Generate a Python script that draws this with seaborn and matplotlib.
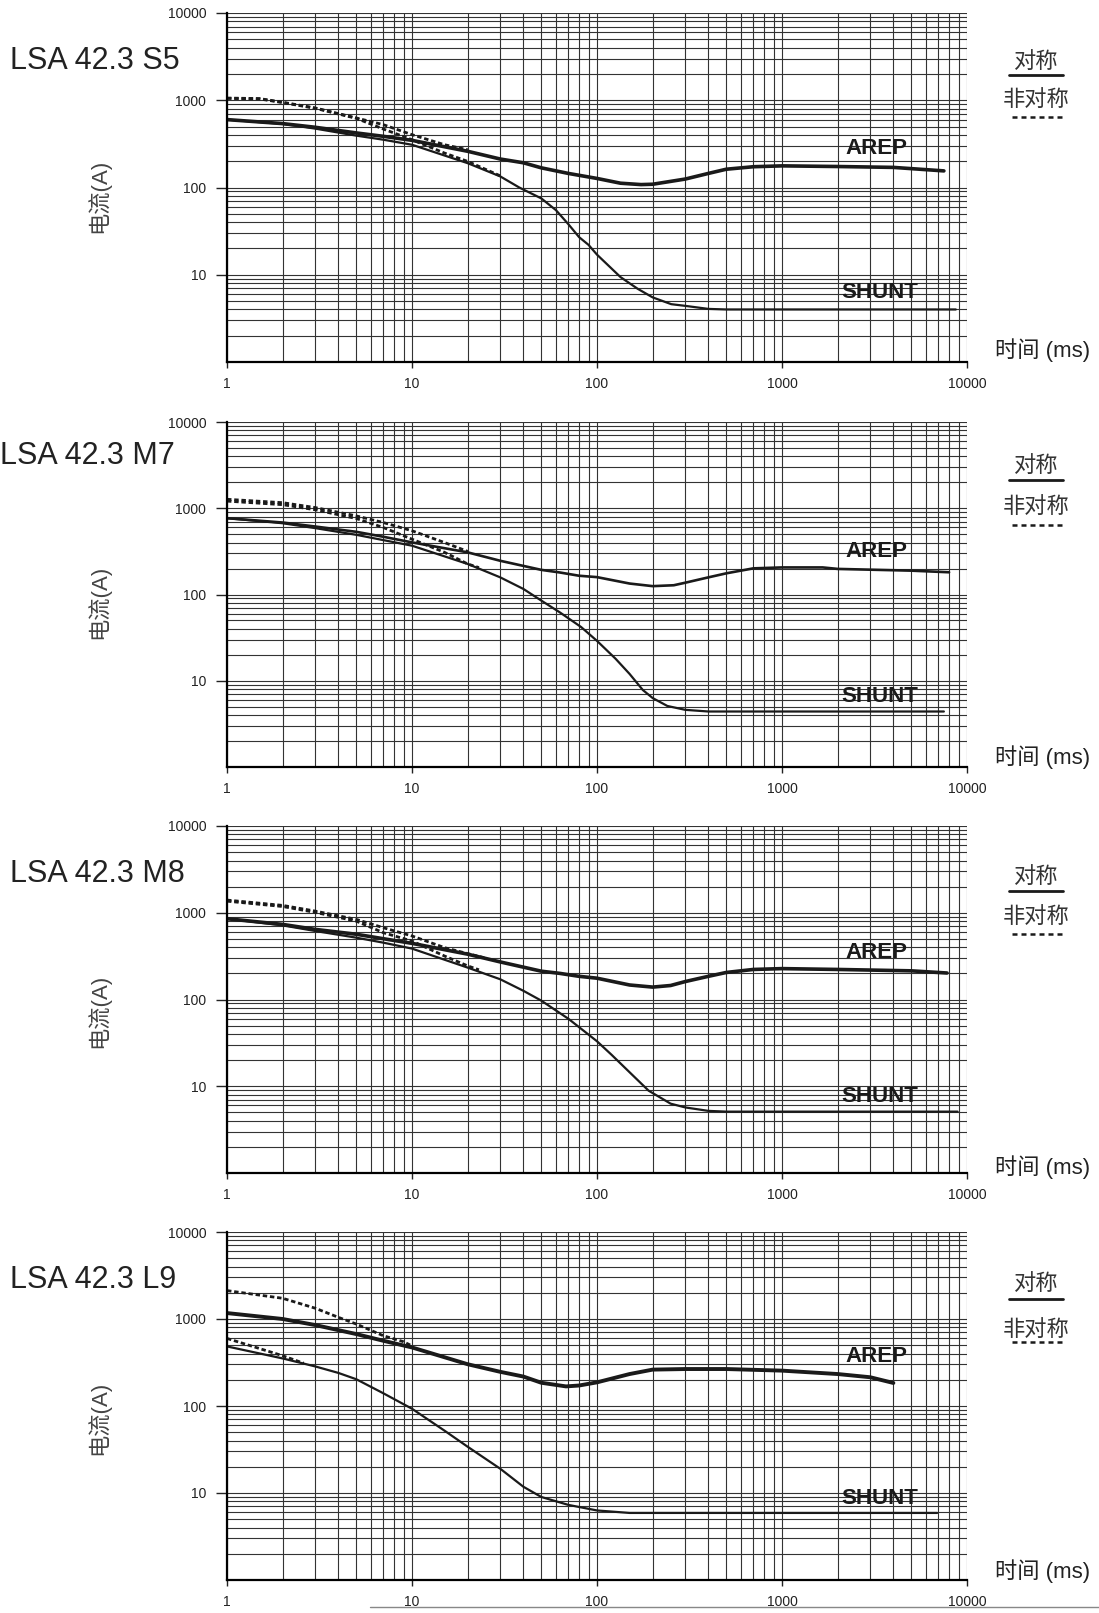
import matplotlib
matplotlib.use('Agg')
import matplotlib.pyplot as plt
import matplotlib.ticker as mticker
from matplotlib.lines import Line2D
import seaborn as sns

sns.set_style('white')
plt.rcParams['font.family'] = ['Liberation Sans', 'Noto Sans CJK SC', 'DejaVu Sans']

# ---- data (time in ms, current in A) ----
models = ['LSA 42.3 S5', 'LSA 42.3 M7', 'LSA 42.3 M8', 'LSA 42.3 L9']

x_ticks = [1, 10, 100, 1000, 10000]
x_labels = ['1', '10', '100', '1000', '10000']
y_ticks = [10, 100, 1000, 10000]
y_labels = ['10', '100', '1000', '10000']

# symmetric AREP (solid, thick)
arep_t = [
    [1, 2, 3, 5, 7, 10, 20, 30, 40, 50, 70, 100, 134, 173, 200, 300, 400, 500, 700, 1000, 2000, 4000, 7500],
    [1, 2, 3, 5, 7, 10, 20, 30, 50, 63, 80, 100, 150, 200, 260, 300, 400, 500, 700, 1000, 1660, 2000, 5000, 8000],
    [1, 2, 3, 5, 7, 10, 20, 30, 50, 63, 80, 100, 150, 200, 250, 300, 400, 500, 700, 1000, 2000, 5000, 7800],
    [1, 2, 3, 5, 7, 10, 20, 30, 40, 50, 68, 80, 100, 150, 200, 300, 500, 1000, 2000, 3000, 4000],
]
arep_i = [
    [600, 540, 490, 422, 386, 347, 260, 212, 192, 168, 145, 127, 112, 108, 109, 125, 145, 162, 173, 177, 174, 170, 155],
    [767, 683, 614, 533, 467, 402, 308, 246, 193, 180, 165, 159, 134, 125, 128, 137, 158, 176, 201, 206, 206, 198, 189, 181],
    [853, 734, 643, 565, 502, 444, 333, 271, 212, 200, 185, 176, 147, 139, 145, 161, 185, 205, 222, 227, 222, 214, 202],
    [1170, 1000, 852, 671, 562, 471, 302, 247, 218, 185, 168, 172, 187, 233, 262, 266, 266, 255, 233, 214, 184],
]

# symmetric SHUNT (solid, thinner)
shunt_t = [
    [1, 2, 3, 5, 7, 10, 20, 30, 38, 50, 60, 70, 80, 90, 100, 134, 166, 200, 252, 300, 400, 500, 8700],
    [1, 2, 3, 5, 7, 10, 20, 30, 40, 50, 63, 82, 100, 126, 150, 177, 200, 240, 300, 400, 7500],
    [1, 2, 3, 5, 7, 10, 20, 30, 40, 50, 70, 80, 100, 120, 150, 190, 250, 300, 400, 500, 8900],
    [1, 2, 3, 4, 5, 7, 10, 15, 20, 30, 40, 50, 70, 100, 150, 6900],
]
shunt_i = [
    [600, 535, 473, 393, 353, 309, 190, 134, 100, 75, 55, 38, 27, 22, 17, 9.4, 6.9, 5.5, 4.6, 4.4, 4.06, 4.0, 4.0],
    [767, 670, 588, 492, 427, 368, 226, 158, 116, 85, 62, 42, 29, 18, 12, 7.8, 6.3, 5.1, 4.6, 4.4, 4.4],
    [853, 715, 616, 516, 452, 386, 233, 171, 126, 97, 60, 48, 33, 23, 14.5, 8.9, 6.3, 5.7, 5.2, 5.1, 5.1],
    [484, 352, 285, 240, 203, 140, 93, 52, 34, 19, 11.8, 9, 7.3, 6.3, 5.9, 5.9],
]

# asymmetric AREP (dashed)
arep_asym_t = [
    [1, 1.5, 2, 3, 5, 7, 10, 15, 20],
    [1, 2, 3, 5, 7, 10, 15, 20],
    [1, 2, 3, 5, 7, 10, 15, 20, 25],
    [1, 2, 3, 4, 5, 7, 9, 10],
]
arep_asym_i = [
    [1060, 1045, 948, 816, 627, 525, 403, 309, 271],
    [1270, 1160, 1018, 815, 683, 548, 400, 316],
    [1400, 1215, 1045, 838, 672, 540, 396, 338, 300],
    [2120, 1730, 1330, 1045, 875, 642, 548, 490],
]

# asymmetric SHUNT (dashed)
shunt_asym_t = [
    [1, 1.5, 2, 3, 5, 7, 10, 15, 20, 30],
    [1, 2, 3, 5, 7, 10, 15, 20, 23],
    [1, 2, 3, 5, 7, 10, 15, 20, 23],
    [1, 2, 2.6],
]
shunt_asym_i = [
    [1050, 1035, 940, 808, 620, 468, 353, 248, 199, 136],
    [1210, 1100, 960, 760, 598, 438, 308, 226, 205],
    [1360, 1180, 1010, 800, 589, 472, 317, 244, 220],
    [598, 378, 310],
]

# ---- layout (pixels of the 1099x1613 picture) ----
W, H = 1099, 1613
ax_left, ax_right = 227, 967
ax_top = [13, 422, 826, 1232]
ax_bot = [362, 767, 1173, 1580]
title_x = [10, 0, 10, 10]
title_y = [61, 456, 874, 1280]
ylab_y = [196, 602, 1011, 1418]
xlab_y = [350, 757, 1167, 1571]
sym_y = [62, 466, 877, 1284]
sym_line_y = [75, 480, 891, 1299]
asym_y = [100, 507, 917, 1330]
asym_line_y = [117, 525, 934, 1342]
arep_lab_y = [149, 552, 953, 1356]
shunt_lab_y = [293, 696, 1097, 1499]
arep_lw = [2.6, 1.9, 2.6, 2.8]

ink = '#1a1a1a'


def fx(px):
    return px / W


def fy(py):
    return 1 - py / H


fig = plt.figure(figsize=(W / 100, H / 100), dpi=100)

for k in range(4):
    ax = fig.add_axes([fx(ax_left), fy(ax_bot[k]),
                       (ax_right - ax_left) / W, (ax_bot[k] - ax_top[k]) / H])
    ax.set(xscale='log', yscale='log')

    sns.lineplot(x=shunt_t[k], y=shunt_i[k], ax=ax, color=ink, linewidth=1.6,
                 estimator=None, sort=False)
    sns.lineplot(x=arep_t[k], y=arep_i[k], ax=ax, color=ink, linewidth=arep_lw[k],
                 estimator=None, sort=False)
    sns.lineplot(x=arep_asym_t[k], y=arep_asym_i[k], ax=ax, color=ink, linewidth=2.0,
                 linestyle=(0, (1.6, 1.0)), estimator=None, sort=False)
    sns.lineplot(x=shunt_asym_t[k], y=shunt_asym_i[k], ax=ax, color=ink, linewidth=2.0,
                 linestyle=(0, (1.6, 1.0)), estimator=None, sort=False)

    ax.set_xlim(1, 10000)
    ax.set_ylim(1, 10000)
    ax.set_xticks(x_ticks)
    ax.set_xticklabels(x_labels)
    ax.set_yticks(y_ticks)
    ax.set_yticklabels(y_labels)
    ax.xaxis.set_minor_locator(mticker.LogLocator(base=10, subs=range(2, 10)))
    ax.yaxis.set_minor_locator(mticker.LogLocator(base=10, subs=range(2, 10)))
    ax.xaxis.set_minor_formatter(mticker.NullFormatter())
    ax.yaxis.set_minor_formatter(mticker.NullFormatter())
    ax.grid(True, which='both', color='#333333', linewidth=0.8)
    ax.tick_params(axis='y', which='major', direction='out', length=8, width=1,
                   pad=7, labelsize=10, colors='#222222', left=True)
    ax.tick_params(axis='x', which='major', direction='out', length=4.5, width=1,
                   pad=6, labelsize=10, colors='#222222', bottom=True)
    ax.tick_params(which='minor', length=0)
    ax.set_xlabel('')
    ax.set_ylabel('')
    for side in ['top', 'right']:
        ax.spines[side].set_visible(False)
    for side in ['left', 'bottom']:
        ax.spines[side].set_linewidth(1.6)
        ax.spines[side].set_color('black')

    # texts around the panel
    fig.text(fx(title_x[k]), fy(title_y[k]), models[k], fontsize=22,
             ha='left', va='center', color='#222222')
    fig.text(fx(98), fy(ylab_y[k]), '电流(A)', fontsize=16, rotation=90,
             ha='center', va='center', color='#444444')
    fig.text(fx(995), fy(xlab_y[k]), '时间 (ms)', fontsize=16,
             ha='left', va='center', color='#222222')
    fig.text(fx(1036), fy(sym_y[k]), '对称', fontsize=16,
             ha='center', va='center', color='#333333')
    fig.text(fx(1036), fy(asym_y[k]), '非对称', fontsize=16,
             ha='center', va='center', color='#333333')
    fig.add_artist(Line2D([fx(1009), fx(1063)], [fy(sym_line_y[k])] * 2,
                          color=ink, linewidth=2.0, transform=fig.transFigure))
    fig.add_artist(Line2D([fx(1012), fx(1063)], [fy(asym_line_y[k])] * 2,
                          color=ink, linewidth=1.8, linestyle=(0, (2.0, 1.6)),
                          transform=fig.transFigure))
    fig.text(fx(876), fy(arep_lab_y[k]), 'AREP', fontsize=16, fontweight='bold',
             ha='center', va='center', color=ink)
    fig.text(fx(880), fy(shunt_lab_y[k]), 'SHUNT', fontsize=16, fontweight='bold',
             ha='center', va='center', color=ink)

# faint page edge under the last panel
fig.add_artist(Line2D([fx(370), 1], [fy(1607)] * 2, color='#888888',
                      linewidth=1, transform=fig.transFigure))

fig.savefig('out.png', dpi=100)
